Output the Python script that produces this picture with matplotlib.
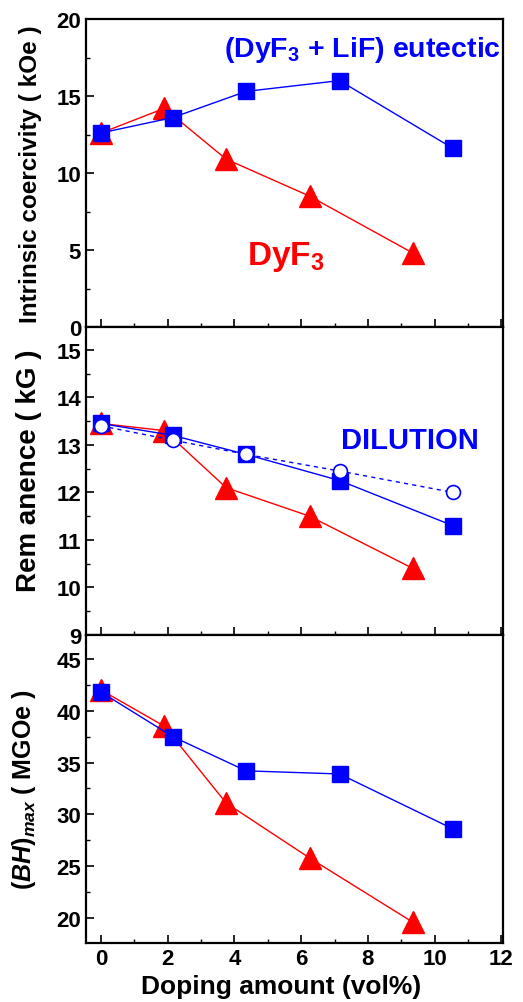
import numpy as np
import matplotlib
matplotlib.use('Agg')
import matplotlib.pyplot as plt
from matplotlib.ticker import MultipleLocator

plt.rcParams['font.family'] = ['Liberation Sans', 'DejaVu Sans']
plt.rcParams['font.weight'] = 'bold'
plt.rcParams['mathtext.fontset'] = 'custom'
plt.rcParams['mathtext.rm'] = 'Liberation Sans:bold'
plt.rcParams['mathtext.it'] = 'Liberation Sans:italic:bold'
plt.rcParams['mathtext.bf'] = 'Liberation Sans:bold'

# doping amounts (vol%)
x_eut = [0.0, 2.15, 4.35, 7.15, 10.55]
x_dyf = [0.0, 1.9, 3.75, 6.25, 9.35]

# intrinsic coercivity (kOe)
hc_eut = [12.6, 13.6, 15.3, 16.0, 11.6]
hc_dyf = [12.6, 14.2, 10.9, 8.5, 4.8]

# remanence (kG)
br_eut = [13.45, 13.2, 12.8, 12.25, 11.3]
br_dil = [13.4, 13.1, 12.8, 12.45, 12.0]
br_dyf = [13.45, 13.3, 12.1, 11.5, 10.4]

# (BH)max (MGOe)
bh_eut = [41.8, 37.5, 34.2, 33.9, 28.6]
bh_dyf = [42.0, 38.5, 31.1, 25.8, 19.6]

BLUE = '#0000ff'
RED = '#ff0000'

fig = plt.figure(figsize=(5.23, 10.03), dpi=100)
axes = []
bottoms = [1 - 328/1003, 1 - 636/1003, 1 - 944/1003]
h = 308/1003
for b in bottoms:
    axes.append(fig.add_axes([86/523, b, (503-86)/523, h]))

ax1, ax2, ax3 = axes

def red(ax, y):
    ax.plot(x_dyf, y, color=RED, lw=1.0, marker='^', ms=16, mfc=RED, mec=RED, zorder=3)

def blue(ax, y):
    ax.plot(x_eut, y, color=BLUE, lw=1.0, marker='s', ms=11, mfc=BLUE, mec=BLUE, zorder=4)

red(ax1, hc_dyf)
blue(ax1, hc_eut)
red(ax2, br_dyf)
blue(ax2, br_eut)
ax2.plot(x_eut, br_dil, color=BLUE, lw=1.0, ls=(0, (3, 3)), marker='o', ms=10,
         mfc='white', mec=BLUE, mew=1.2, zorder=5)
red(ax3, bh_dyf)
blue(ax3, bh_eut)

for ax in axes:
    ax.set_xlim(-0.45, 12.05)
    ax.xaxis.set_major_locator(MultipleLocator(2))
    ax.xaxis.set_minor_locator(MultipleLocator(1))
    ax.tick_params(which='both', direction='in', top=False, right=False, labelsize=16)
    ax.tick_params(which='major', length=6, width=1.2)
    ax.tick_params(which='minor', length=3, width=1.0)
    for s in ax.spines.values():
        s.set_linewidth(1.6)

ax1.set_ylim(0, 20)
ax1.yaxis.set_major_locator(MultipleLocator(5))
ax1.yaxis.set_minor_locator(MultipleLocator(2.5))
ax2.set_ylim(9, 15.48)
ax2.yaxis.set_major_locator(MultipleLocator(1))
ax2.yaxis.set_minor_locator(MultipleLocator(0.5))
ax3.set_ylim(17.6, 47.3)
ax3.yaxis.set_major_locator(MultipleLocator(5))
ax3.yaxis.set_minor_locator(MultipleLocator(2.5))

ax1.tick_params(labelbottom=False)
ax2.tick_params(labelbottom=False)

ax1.set_ylabel('Intrinsic coercivity ( kOe )', fontsize=17.5, fontweight='bold')
ax2.set_ylabel('Rem anence ( kG )', fontsize=20, fontweight='bold')
ax3.set_ylabel('$\\mathit{(BH)}_{\\mathit{max}}$ ( MGOe )', fontsize=18, fontweight='bold')
ax3.set_xlabel('Doping amount (vol%)', fontsize=19, fontweight='bold', labelpad=1)
ax1.yaxis.set_label_coords(-0.105, 0.5)
ax2.yaxis.set_label_coords(-0.105, 0.535)
ax3.yaxis.set_label_coords(-0.115, 0.5)
ax3.xaxis.set_label_coords(0.468, -0.1)

ax1.text(12.0, 18.05, '(DyF$_3$ + LiF) eutectic', color=BLUE, fontsize=20.5,
         fontweight='bold', ha='right', va='center')
ax1.text(5.55, 4.6, 'DyF$_3$', color=RED, fontsize=24, fontweight='bold',
         ha='center', va='center')
ax2.text(9.27, 13.1, 'DILUTION', color=BLUE, fontsize=21, fontweight='bold',
         ha='center', va='center')

fig.savefig('out.png', dpi=100)
